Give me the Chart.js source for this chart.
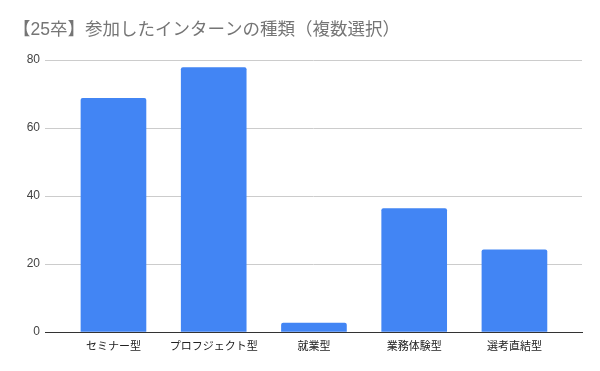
<!DOCTYPE html>
<html lang="ja">
<head>
    <meta charset="UTF-8">
    <title>【25卒】参加したインターンの種類（複数選択）</title>
    <script src="https://cdn.jsdelivr.net/npm/chart.js"></script>
    <style>
        html, body { margin: 0; padding: 0; background: #fff; }
        #wrap { width: 600px; height: 371px; position: relative; }
    </style>
</head>
<body>
    <div id="wrap"><canvas id="chart"></canvas></div>

    <script>
        const titleText = '【25卒】参加したインターンの種類（複数選択）';
        const categories = ['セミナー型', 'プロフジェクト型', '就業型', '業務体験型', '選考直結型'];
        const values = [68.7, 77.8, 2.6, 36.3, 24.2];
        const yTicks = [0, 20, 40, 60, 80];

        const fontFamily = "Arial, 'Liberation Sans', 'Noto Sans CJK JP', sans-serif";

        // bars sit on a linear x scale so the inner padding matches the original
        const points = categories.map((c, i) => ({ x: i, y: values[i] }));

        new Chart(document.getElementById('chart'), {
            type: 'bar',
            data: {
                datasets: [{
                    data: points,
                    backgroundColor: '#4285f4',
                    barThickness: 65,
                    borderRadius: 2,
                    borderSkipped: 'bottom'
                }]
            },
            options: {
                responsive: true,
                maintainAspectRatio: false,
                animation: false,
                layout: { padding: { left: 13, right: 18, top: 0, bottom: 0 } },
                plugins: {
                    legend: { display: false },
                    tooltip: { enabled: false },
                    title: {
                        display: true,
                        text: titleText,
                        align: 'start',
                        color: '#757575',
                        font: { family: fontFamily, size: 17.5, weight: 'normal' },
                        padding: { top: 20, bottom: 19 }
                    }
                },
                scales: {
                    x: {
                        type: 'linear',
                        offset: false,
                        min: -0.683,
                        max: 4.674,
                        afterBuildTicks: s => { s.ticks = categories.map((c, i) => ({ value: i })); },
                        afterFit: s => { s.height = 39; },
                        grid: { display: false, drawTicks: false },
                        border: { display: true, color: '#333333', width: 1 },
                        ticks: {
                            autoSkip: false,
                            maxRotation: 0,
                            padding: 8,
                            color: '#222222',
                            font: { family: fontFamily, size: 11 },
                            callback: v => categories[v]
                        }
                    },
                    y: {
                        min: 0,
                        max: 80,
                        afterBuildTicks: s => { s.ticks = yTicks.map(v => ({ value: v })); },
                        afterFit: s => { s.width = 32; },
                        grid: { color: '#cccccc', drawTicks: false },
                        border: { display: false },
                        ticks: {
                            padding: 5,
                            color: '#444444',
                            font: { family: fontFamily, size: 12 }
                        }
                    }
                }
            }
        });
    </script>
</body>
</html>
